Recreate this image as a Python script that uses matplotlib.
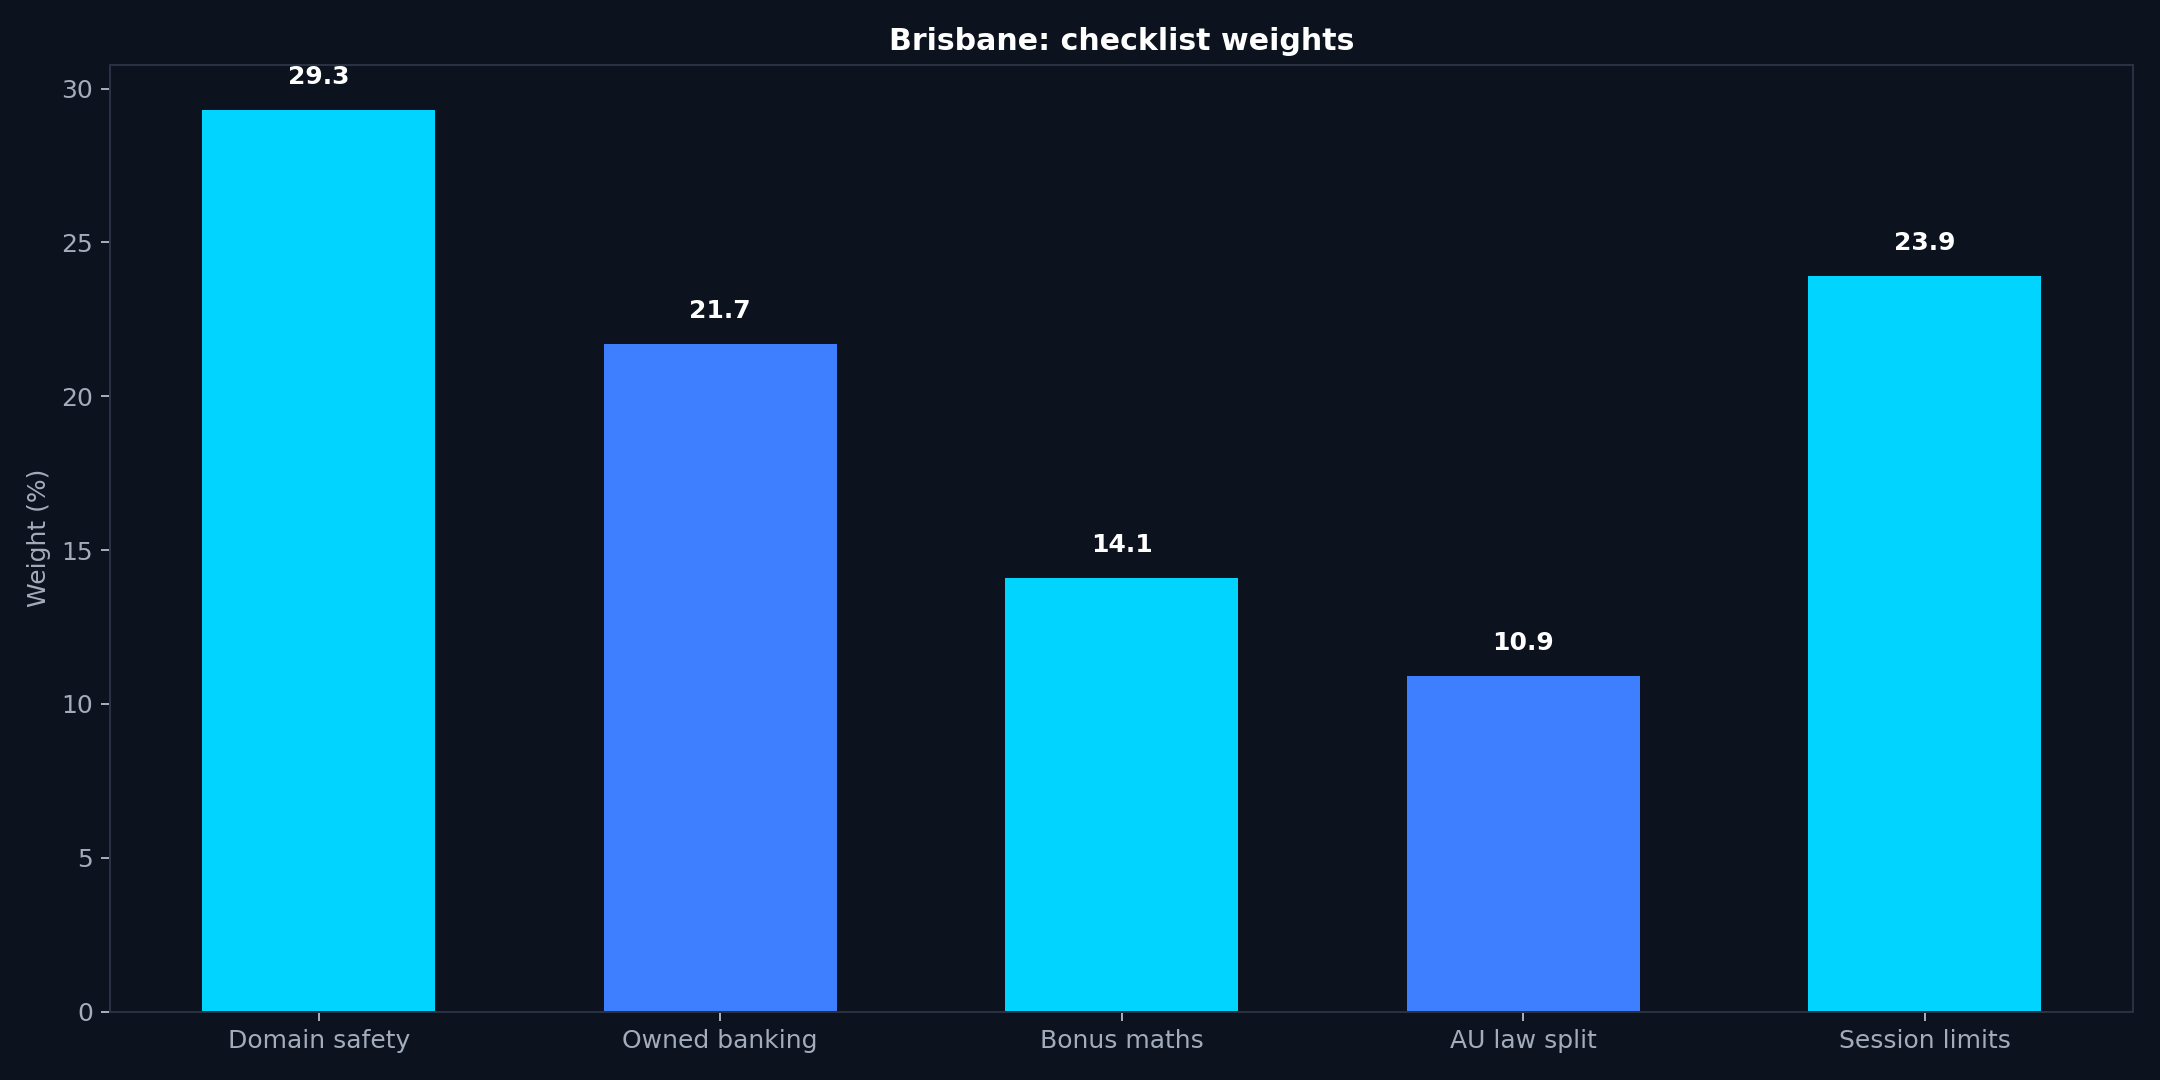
import matplotlib
matplotlib.use("Agg")
import matplotlib.pyplot as plt

categories = ["Domain safety", "Owned banking", "Bonus maths", "AU law split", "Session limits"]
weights = [29.3, 21.7, 14.1, 10.9, 23.9]
bar_colors = ["#00d4ff", "#3d7fff", "#00d4ff", "#3d7fff", "#00d4ff"]

bg = "#0c121e"
text_col = "#a3acbb"

fig, ax = plt.subplots(figsize=(12, 6), dpi=180)
fig.patch.set_facecolor(bg)
ax.set_facecolor(bg)

x = range(len(categories))
bars = ax.bar(x, weights, width=0.58, color=bar_colors)

# value labels above each bar
for b, v in zip(bars, weights):
    ax.text(b.get_x() + b.get_width() / 2, v + 0.68, f"{v:.1f}",
            ha="center", va="bottom", color="white", fontsize=10, fontweight="bold")

ax.set_xticks(list(x))
ax.set_xticklabels(categories)
ax.set_ylim(0, max(weights) * 1.05)
ax.set_ylabel("Weight (%)", color=text_col, fontsize=10)
ax.set_title("Brisbane: checklist weights", color="white", fontsize=12, fontweight="bold")

ax.tick_params(colors=text_col, labelsize=10)
for s in ax.spines.values():
    s.set_color("#2a3142")

fig.tight_layout()
fig.savefig("out.png", facecolor=bg)
